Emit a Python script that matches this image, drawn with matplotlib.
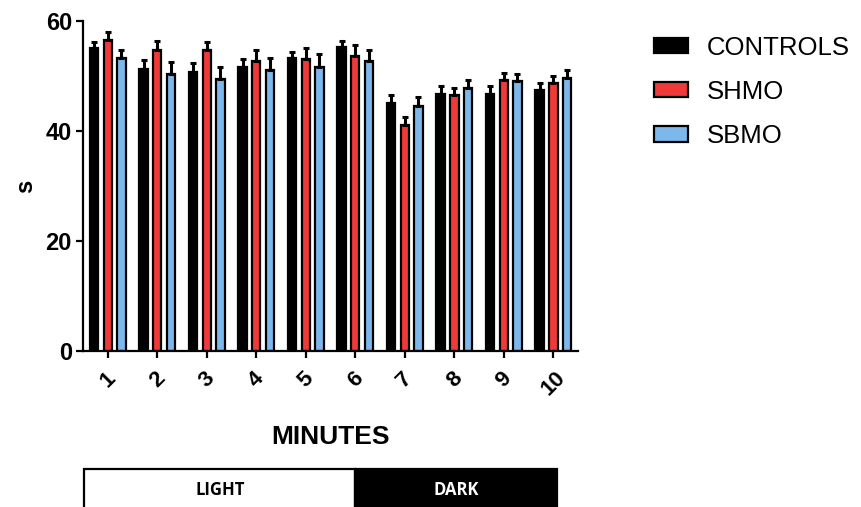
import numpy as np
import matplotlib
matplotlib.use("Agg")
import matplotlib.pyplot as plt
from matplotlib.patches import Patch, Rectangle

plt.rcParams['font.family'] = ['Liberation Sans', 'DejaVu Sans']

# data
minutes = ['1', '2', '3', '4', '5', '6', '7', '8', '9', '10']
groups = ['CONTROLS', 'SHMO', 'SBMO']
controls = [55.0, 51.2, 50.7, 51.7, 53.2, 55.3, 45.0, 46.8, 46.8, 47.5]
controls_err = [1.1, 1.7, 1.7, 1.4, 1.2, 1.1, 1.5, 1.3, 1.4, 1.3]
shmo = [56.5, 54.7, 54.7, 52.8, 53.0, 53.6, 41.1, 46.5, 49.3, 48.8]
shmo_err = [1.4, 1.7, 1.5, 1.9, 2.0, 2.0, 1.4, 1.3, 1.2, 1.2]
sbmo = [53.3, 50.3, 49.4, 51.1, 51.7, 52.8, 44.6, 47.8, 49.1, 49.7]
sbmo_err = [1.5, 2.2, 2.2, 2.2, 2.2, 1.9, 1.5, 1.5, 1.2, 1.4]
phases = ['LIGHT', 'DARK']

colors = ['black', '#f03a3a', '#7cb8ec']
series = [controls, shmo, sbmo]
errors = [controls_err, shmo_err, sbmo_err]

fig = plt.figure(figsize=(8.61, 5.07), dpi=100)
ax = fig.add_axes([0.0964, 0.3077, 0.575, 0.651])

x = np.arange(1, len(minutes) + 1)
offsets = [-0.275, 0.0, 0.275]
w = 0.17
for vals, errs, c, off, name in zip(series, errors, colors, offsets, groups):
    ax.bar(x + off, vals, width=w, color=c, edgecolor='black', linewidth=1.6,
           label=name, zorder=2)
    ax.errorbar(x + off, vals, yerr=[np.zeros(len(errs)), errs], fmt='none',
                ecolor='black', elinewidth=2.2, capsize=2.5, capthick=2.2, zorder=3)

ax.set_xlim(0.5, 10.5)
ax.set_ylim(0, 60)
ax.set_yticks([0, 20, 40, 60])
ax.set_xticks(x)
ax.set_xticklabels(minutes, rotation=45, fontsize=16, fontweight='bold')
for lab in ax.get_yticklabels():
    lab.set_fontsize(17)
    lab.set_fontweight('bold')
ax.spines['top'].set_visible(False)
ax.spines['right'].set_visible(False)
ax.spines['left'].set_linewidth(1.6)
ax.spines['bottom'].set_linewidth(1.6)
ax.tick_params(axis='both', width=1.6, length=5, pad=3)
ax.tick_params(axis='x', pad=7)
ax.set_ylabel('s', fontsize=17, fontweight='bold')
ax.yaxis.set_label_coords(-0.093, 0.5)
ax.set_xlabel('MINUTES', fontsize=19, fontweight='bold', labelpad=18)

handles = [Patch(facecolor=c, edgecolor='black', linewidth=1.6) for c in colors]
fig.legend(handles, groups, loc='upper left', bbox_to_anchor=(0.733, 0.975),
           frameon=False, fontsize=18.5, handlelength=1.3, handleheight=0.55,
           handletextpad=0.75, labelspacing=0.78)

# light / dark bar under the chart
fig.add_artist(Rectangle((84 / 861, -0.02), (355 - 84) / 861, 0.095,
                         transform=fig.transFigure, facecolor='white',
                         edgecolor='black', linewidth=1.6))
fig.add_artist(Rectangle((355 / 861, -0.02), (557 - 355) / 861, 0.095,
                         transform=fig.transFigure, facecolor='black',
                         edgecolor='black', linewidth=1.6))
fig.text(220 / 861, 1 - 490 / 507, phases[0], fontsize=12, fontweight='bold',
         family=['Open Sans', 'DejaVu Sans'], ha='center', va='center', color='black')
fig.text(456 / 861, 1 - 490 / 507, phases[1], fontsize=12, fontweight='bold',
         family=['Open Sans', 'DejaVu Sans'], ha='center', va='center', color='white')

fig.savefig('out.png', dpi=100)
